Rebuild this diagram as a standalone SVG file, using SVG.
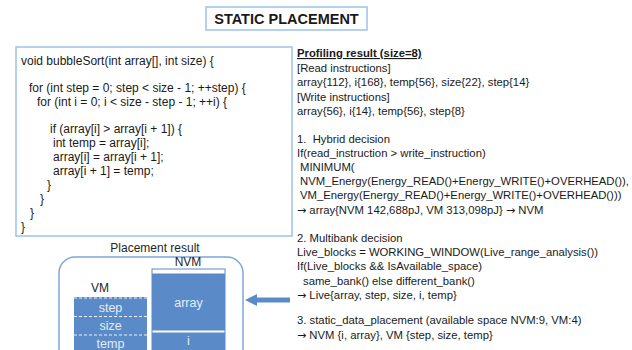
<svg xmlns="http://www.w3.org/2000/svg" width="632" height="350" viewBox="0 0 632 350">
<style>
  .frame { fill: #ffffff; stroke: #9dc3e6; stroke-width: 1.5; }
  .code { font-family: "Liberation Sans", Arial, sans-serif; font-size: 12px; fill: #1a1a1a; }
  .prof { font-family: "Liberation Sans", Arial, sans-serif; font-size: 11.3px; fill: #1a1a1a; }
  .arr { font-family: "DejaVu Sans", sans-serif; font-size: 11px; }
  .title { font-family: "Liberation Sans", Arial, sans-serif; font-size: 14.5px; font-weight: bold; fill: #1a1a1a; }
  .lbl { font-family: "Liberation Sans", Arial, sans-serif; font-size: 12px; fill: #262626; text-anchor: middle; }
  .cell { fill: #5a8bc8; }
  .celltxt { font-family: "Liberation Sans", Arial, sans-serif; font-size: 12.5px; fill: #e3edf8; text-anchor: middle; }
  .dash { stroke: #e8f0fa; stroke-width: 1.2; stroke-dasharray: 3 2; fill: none; }
</style>

<g id="title">
  <rect class="frame" x="206" y="7" width="161" height="23"/>
  <text class="title" x="286.5" y="24" text-anchor="middle">STATIC PLACEMENT</text>
</g>

<g id="code">
  <rect class="frame" x="16" y="47" width="276" height="189"/>
  <text class="code" x="21" y="65">void bubbleSort(int array[], int size) {</text>
  <text class="code" x="29" y="92" xml:space="preserve">for (int step = 0; step &lt; size - 1; ++step) {</text>
  <text class="code" x="37" y="106" xml:space="preserve">for (int i = 0; i &lt; size - step - 1; ++i) {</text>
  <text class="code" x="50" y="133">if (array[i] &gt; array[i + 1]) {</text>
  <text class="code" x="53" y="147">int temp = array[i];</text>
  <text class="code" x="53" y="161">array[i] = array[i + 1];</text>
  <text class="code" x="53" y="175">array[i + 1] = temp;</text>
  <text class="code" x="47" y="189">}</text>
  <text class="code" x="40" y="203">}</text>
  <text class="code" x="30" y="217">}</text>
  <text class="code" x="21" y="231">}</text>
</g>

<g id="profiling">
  <text class="prof" x="297" y="57" font-weight="bold" text-decoration="underline">Profiling result (size=8)</text>
  <text class="prof" x="297" y="72">[Read instructions]</text>
  <text class="prof" x="297" y="86">array{112}, i{168}, temp{56}, size{22}, step{14}</text>
  <text class="prof" x="297" y="101">[Write instructions]</text>
  <text class="prof" x="297" y="115">array{56}, i{14}, temp{56}, step{8}</text>
  <text class="prof" x="297" y="143" xml:space="preserve">1.  Hybrid decision</text>
  <text class="prof" x="297" y="157">If(read_instruction &gt; write_instruction)</text>
  <text class="prof" x="300" y="171">MINIMUM(</text>
  <text class="prof" x="300" y="185">NVM_Energy(Energy_READ()+Energy_WRITE()+OVERHEAD()),</text>
  <text class="prof" x="300" y="199">VM_Energy(Energy_READ()+Energy_WRITE()+OVERHEAD()))</text>
  <text class="prof" x="297" y="214"><tspan class="arr">→</tspan> array{NVM 142,688pJ, VM 313,098pJ} <tspan class="arr">→</tspan> NVM</text>
  <text class="prof" x="297" y="242">2. Multibank decision</text>
  <text class="prof" x="297" y="256">Live_blocks = WORKING_WINDOW(Live_range_analysis())</text>
  <text class="prof" x="297" y="270">If(Live_blocks &amp;&amp; IsAvailable_space)</text>
  <text class="prof" x="303" y="285">same_bank() else different_bank()</text>
  <text class="prof" x="297" y="299"><tspan class="arr">→</tspan> Live{array, step, size, i, temp}</text>
  <text class="prof" x="297" y="324">3. static_data_placement (available space NVM:9, VM:4)</text>
  <text class="prof" x="297" y="339"><tspan class="arr">→</tspan> NVM {i, array}, VM {step, size, temp}</text>
</g>

<g id="placement">
  <rect x="59" y="257" width="184" height="110" rx="16" ry="16" fill="#ffffff" stroke="#7fa7d6" stroke-width="1.5"/>
  <text class="lbl" x="155" y="252">Placement result</text>
  <g id="nvm">
    <text class="lbl" x="188" y="266">NVM</text>
    <rect x="152" y="269" width="73" height="90" fill="#ffffff" stroke="#5a8bc8" stroke-width="1"/>
    <rect class="cell" x="152" y="273.5" width="73" height="57"/>
    <rect class="cell" x="152" y="332.5" width="73" height="20"/>
    <text class="celltxt" x="188.5" y="307">array</text>
    <text class="celltxt" x="188.5" y="345">i</text>
  </g>
  <g id="vm">
    <text class="lbl" x="100" y="292">VM</text>
    <rect class="cell" x="74" y="297" width="73" height="56"/>
    <path class="dash" d="M74 298 H147 M74 316.5 H147 M74 335 H147"/>
    <text class="celltxt" x="110.5" y="312">step</text>
    <text class="celltxt" x="110.5" y="330">size</text>
    <text class="celltxt" x="110.5" y="348">temp</text>
  </g>
</g>

<g id="connectors">
  <polygon points="245,300 257,294 257,297.5 290,297.5 290,302.5 257,302.5 257,306" fill="#5a8bc8"/>
</g>
</svg>
